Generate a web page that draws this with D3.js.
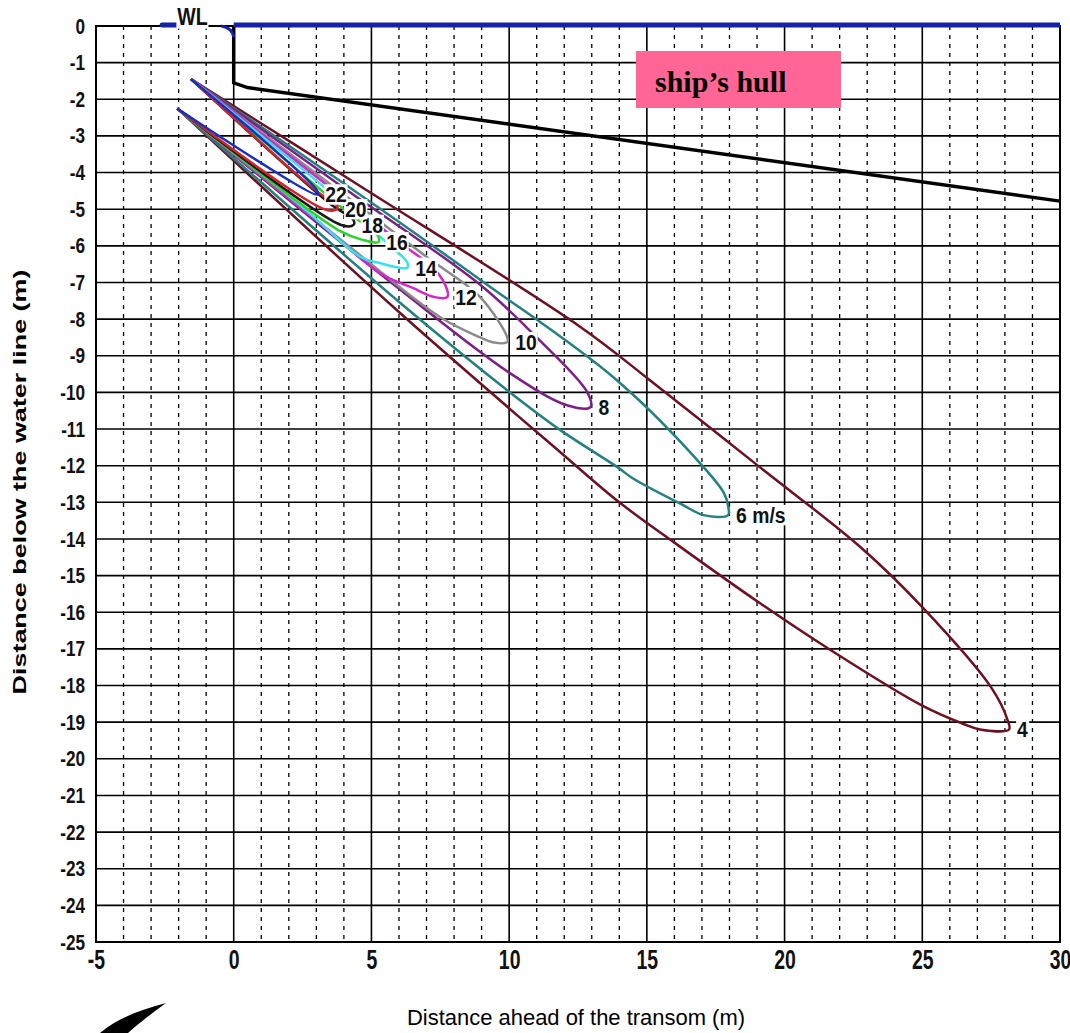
<!DOCTYPE html>
<html>
<head>
<meta charset="utf-8">
<script src="https://cdn.jsdelivr.net/npm/d3@7"></script>
<style>
  body { margin: 0; background: #fff; }
  svg { display: block; }
</style>
</head>
<body>
<div id="chart"></div>
<script>
// ---- data (metres) ----
const xTicks = [-5, 0, 5, 10, 15, 20, 25, 30];
const yTicks = d3.range(0, -26, -1);

const speeds = [4, 6, 8, 10, 12, 14, 16, 18, 20, 22];
const speedLabels = ["4", "6 m/s", "8", "10", "12", "14", "16", "18", "20", "22"];

// jet starts at the propeller tips
const upperOrigin = [-1.55, -1.45];
const lowerOrigin = [-2.05, -2.25];

// upper edges, origin -> tip ; lower edges, tip -> origin
const jet4Upper = [[4.7, -4.42], [12.6, -8.22], [15.1, -9.66], [19.1, -12.04], [22.75, -14.22], [25.0, -15.86], [27.5, -18.05], [28.1, -18.95], [28.15, -19.2]];
const jet4Lower = [[27.1, -19.2], [26.5, -19.05], [25.0, -18.55], [21.5, -16.95], [19.1, -15.75], [16.0, -14.1], [14.0, -13.0], [11.9, -11.66], [6.05, -7.84]];
const jet6Upper = [[4.0, -4.3], [8.96, -6.93], [13.9, -9.66], [17.06, -12.04], [17.8, -12.75], [17.95, -13.1], [17.95, -13.35]];
const jet6Lower = [[17.06, -13.35], [16.3, -13.07], [14.5, -12.35], [13.93, -12.04], [11.86, -11.03], [9.93, -9.94], [6.05, -7.56]];
const jet8Upper = [[4.0, -4.42], [8.96, -7.07], [11.0, -8.5], [12.84, -10.0], [12.95, -10.4]];
const jet8Lower = [[12.1, -10.35], [10.04, -9.48], [6.05, -7.2]];
const jet10Upper = [[4.0, -4.6], [7.0, -6.3], [8.95, -7.4], [9.93, -8.5], [9.93, -8.63]];
const jet10Lower = [[9.4, -8.63], [8.95, -8.5], [7.5, -7.95], [4.0, -5.9]];
const jet12Upper = [[4.0, -4.7], [6.3, -6.06], [7.25, -6.6], [7.75, -7.2], [7.75, -7.4]];
const jet12Lower = [[7.3, -7.4], [6.5, -7.15], [5.3, -6.74], [3.0, -5.3]];
const jet14Upper = [[4.0, -4.85], [5.6, -5.95], [6.3, -6.45], [6.3, -6.6]];
const jet14Lower = [[5.3, -6.47], [4.6, -6.3], [2.5, -4.95]];
const jet16Upper = [[4.0, -5.0], [5.25, -5.75], [5.25, -5.9]];
const jet16Lower = [[4.7, -5.84], [3.87, -5.6]];
const jet18Upper = [[3.5, -4.85], [4.35, -5.3], [4.35, -5.43]];
const jet18Lower = [[3.9, -5.43]];
const jet20Upper = [[3.0, -4.5], [3.75, -4.9], [3.75, -5.0]];
const jet20Lower = [[3.3, -5.0]];
const jet22Upper = [[3.03, -4.5], [3.03, -4.6]];
const jet22Lower = [];

const jetUpper = [jet4Upper, jet6Upper, jet8Upper, jet10Upper, jet12Upper, jet14Upper, jet16Upper, jet18Upper, jet20Upper, jet22Upper];
const jetLower = [jet4Lower, jet6Lower, jet8Lower, jet10Lower, jet12Lower, jet14Lower, jet16Lower, jet18Lower, jet20Lower, jet22Lower];

// hull and water line
const hullX = [0, 0, 0.5, 30];
const hullY = [0, -1.55, -1.68, -4.78];
const waterX = [0, 30];

const jetColors = ["#6e1020", "#23817f", "#7d1f86", "#8a8a8a", "#d425cf", "#36e3ec", "#2ad42a", "#1a1a1a", "#d8222a", "#1530c4"];

// ---- layout ----
const W = 1070, H = 1033;
const x = d3.scaleLinear().domain([-5, 30]).range([96, 1060]);
const y = d3.scaleLinear().domain([0, -25]).range([26, 942]);
const sans = '"Liberation Sans", Arial, sans-serif';

const svg = d3.select("#chart").append("svg")
  .attr("width", W)
  .attr("height", H);

// grid
svg.append("g").selectAll("line")
  .data(yTicks)
  .join("line")
  .attr("x1", x(-5)).attr("x2", x(30))
  .attr("y1", d => y(d)).attr("y2", d => y(d))
  .attr("stroke", "#000")
  .attr("stroke-width", 1.6);

svg.append("g").selectAll("line")
  .data(d3.range(-5, 31))
  .join("line")
  .attr("x1", d => x(d)).attr("x2", d => x(d))
  .attr("y1", y(0)).attr("y2", y(-25))
  .attr("stroke", "#000")
  .attr("stroke-width", d => d % 5 === 0 ? 1.6 : 1.3)
  .attr("stroke-dasharray", d => d % 5 === 0 ? null : "4,5");

svg.append("rect")
  .attr("x", x(-5)).attr("y", y(0))
  .attr("width", x(30) - x(-5))
  .attr("height", y(-25) - y(0))
  .attr("fill", "none")
  .attr("stroke", "#000")
  .attr("stroke-width", 2);

// axes (narrow face imitated with a horizontal squeeze)
const yAxis = svg.append("g")
  .attr("transform", `translate(${x(-5)},0)`)
  .call(d3.axisLeft(y).tickValues(yTicks).tickSize(0).tickPadding(10).tickFormat(d => String(d)));
yAxis.select(".domain").remove();
yAxis.selectAll("text")
  .attr("x", -11 / 0.78)
  .attr("transform", "scale(0.78,1)")
  .attr("font-family", sans)
  .attr("font-weight", "bold")
  .attr("font-size", 22)
  .attr("fill", "#111");

const xAxis = svg.append("g")
  .attr("transform", `translate(0,${y(-25)})`)
  .call(d3.axisBottom(x).tickValues(xTicks).tickSize(0).tickPadding(8).tickFormat(d => String(d)));
xAxis.select(".domain").remove();
xAxis.selectAll("text")
  .attr("transform", "scale(0.72,1)")
  .attr("font-family", sans)
  .attr("font-weight", "bold")
  .attr("font-size", 27)
  .attr("fill", "#111");

svg.append("text")
  .attr("transform", `translate(26,482) rotate(-90)`)
  .attr("text-anchor", "middle")
  .attr("font-family", sans)
  .attr("font-weight", "bold")
  .attr("font-size", 18)
  .attr("textLength", 425)
  .attr("lengthAdjust", "spacingAndGlyphs")
  .text("Distance below the water line (m)");

svg.append("text")
  .attr("x", 407).attr("y", 1025)
  .attr("font-family", sans)
  .attr("font-size", 22)
  .attr("textLength", 338)
  .attr("lengthAdjust", "spacingAndGlyphs")
  .text("Distance ahead of the transom (m)");

// jet contours
const line = d3.line()
  .x(d => x(d[0]))
  .y(d => y(d[1]))
  .curve(d3.curveCatmullRom.alpha(0.5));

speeds.forEach((s, i) => {
  const pts = [upperOrigin, ...jetUpper[i], ...jetLower[i], lowerOrigin];
  svg.append("path")
    .attr("d", line(pts))
    .attr("fill", "none")
    .attr("stroke", jetColors[i])
    .attr("stroke-width", 2.5)
    .attr("stroke-linejoin", "round");
});

// narrow text with a white patch behind it
function tag(px, py, str, size, squeeze) {
  const g = svg.append("g")
    .attr("transform", `translate(${px},${py}) scale(${squeeze},1)`);
  const t = g.append("text")
    .attr("dy", "0.36em")
    .attr("font-family", sans)
    .attr("font-weight", "bold")
    .attr("font-size", size)
    .attr("fill", "#111")
    .text(str);
  const b = t.node().getBBox();
  g.insert("rect", "text")
    .attr("x", b.x - 1).attr("y", b.y + 2)
    .attr("width", b.width + 2).attr("height", b.height - 4)
    .attr("fill", "#fff");
  return g;
}

// contour labels at the tips
speeds.forEach((s, i) => {
  const tip = jetUpper[i][jetUpper[i].length - 1];
  tag(x(tip[0]) + 8, y(tip[1]), speedLabels[i], 22, 0.88);
});

// hull
svg.append("path")
  .attr("d", d3.line().x(d => x(d)).y((d, i) => y(hullY[i]))(hullX))
  .attr("fill", "none")
  .attr("stroke", "#000")
  .attr("stroke-width", 3.5);

// water line
svg.append("line")
  .attr("x1", x(waterX[0])).attr("x2", x(waterX[1]))
  .attr("y1", y(0) - 1).attr("y2", y(0) - 1)
  .attr("stroke", "#1422a8")
  .attr("stroke-width", 5);
svg.append("line")
  .attr("x1", x(-2.6)).attr("x2", x(-2.05))
  .attr("y1", y(0) - 1).attr("y2", y(0) - 1)
  .attr("stroke", "#1422a8")
  .attr("stroke-width", 5)
  .attr("stroke-linecap", "round");
svg.append("path")
  .attr("d", `M${x(-0.45)},${y(0)} Q${x(-0.05)},${y(0) + 2} ${x(0)},${y(-0.3)}`)
  .attr("fill", "none")
  .attr("stroke", "#1422a8")
  .attr("stroke-width", 3);

tag(x(-2.05), 17, "WL", 23, 0.85);

// hull tag
svg.append("rect")
  .attr("x", 636).attr("y", 51)
  .attr("width", 205).attr("height", 57)
  .attr("fill", "#ff6595");
svg.append("text")
  .attr("x", 655).attr("y", 92)
  .attr("font-family", "Liberation Serif, Times New Roman, serif")
  .attr("font-weight", "bold")
  .attr("font-size", 30)
  .text("ship\u2019s hull");

// logo fragment, bottom left
svg.append("path")
  .attr("d", "M100,1033 C118,1018 140,1010 166,1003 C152,1013 138,1024 128,1033 Z")
  .attr("fill", "#000");
</script>
</body>
</html>
